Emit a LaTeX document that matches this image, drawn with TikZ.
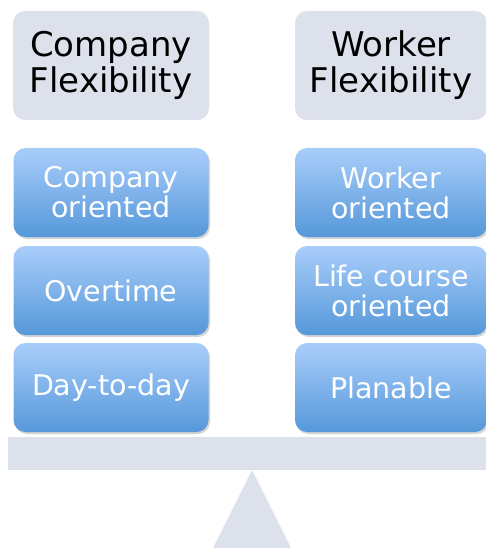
\documentclass[tikz,border=0pt]{standalone}
\usepackage{fontspec}
\setmainfont{DejaVu Sans}
\usetikzlibrary{shadows}
\definecolor{panel}{HTML}{DCE1EC}
\definecolor{blueTop}{HTML}{A9CDFA}
\definecolor{blueBot}{HTML}{5598DA}
\tikzset{
  header/.style={fill=panel, rounded corners=12pt, minimum height=109pt,
    align=center, text=black, inner sep=0pt,
    font=\fontsize{34}{36}\selectfont},
  option/.style={rounded corners=12pt, minimum height=89pt, align=center,
    text=white, inner sep=0pt, top color=blueTop, bottom color=blueBot,
    drop shadow={opacity=0.35, shadow xshift=1.5pt, shadow yshift=-2pt},
    font=\fontsize{28.5}{30}\selectfont},
  leftcol/.style={minimum width=195pt},
  rightcol/.style={minimum width=192pt}
}
\begin{document}
\begin{tikzpicture}[x=1pt,y=-1pt]
  \useasboundingbox (0,0) rectangle (486,548);
  % column headings
  \node[header, minimum width=196pt] (hc) at (111,65.5) {Company\\Flexibility};
  \node[header, rightcol] (hw) at (391,65.5) {Worker\\Flexibility};
  % company-side blocks
  \node[option, leftcol] (c1) at (111,192.5) {Company\\oriented};
  \node[option, leftcol] (c2) at (111,290.5) {Overtime};
  \node[option, leftcol] (c3) at (111,387.5) {Day-to-day};
  % worker-side blocks
  \node[option, rightcol] (w1) at (391,192.5) {Worker\\oriented};
  \node[option, rightcol] (w2) at (391,290.5) {Life course\\oriented};
  \node[option, rightcol] (w3) at (391,387.5) {Planable};
  % balance beam and fulcrum
  \fill[panel] (8,437) rectangle (490,470);
  \fill[panel] (252,470) -- (291,548) -- (213,548) -- cycle;
\end{tikzpicture}
\end{document}
